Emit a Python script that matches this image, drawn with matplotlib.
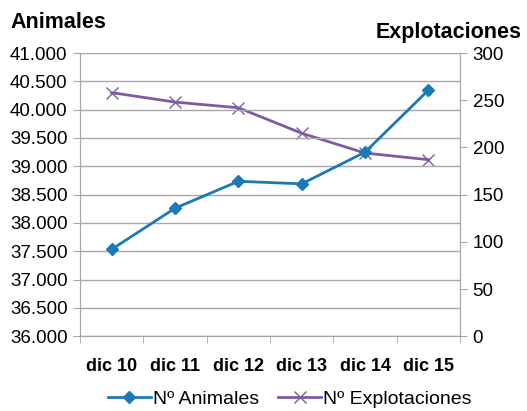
import matplotlib
matplotlib.use("Agg")
import matplotlib.pyplot as plt
from matplotlib.ticker import FuncFormatter

plt.rcParams["font.family"] = ["Liberation Sans", "DejaVu Sans"]

periodos = ["dic 10", "dic 11", "dic 12", "dic 13", "dic 14", "dic 15"]
animales = [37535, 38260, 38735, 38690, 39250, 40345]
explotaciones = [258, 248, 242, 215, 194, 187]

BLUE = "#1a7ab5"
PURPLE = "#7f5aa5"
GRID = "#a6a6a6"

fig = plt.figure(figsize=(5.27, 4.11), dpi=100)
ax = fig.add_axes([0.152, 0.182, 0.721, 0.689])
ax2 = ax.twinx()

x = range(len(periodos))
l1, = ax.plot(x, animales, color=BLUE, lw=2, marker="D", ms=6, label="Nº Animales")
l2, = ax2.plot(x, explotaciones, color=PURPLE, lw=2, marker="x", ms=8, mew=1, label="Nº Explotaciones")
ax.set_zorder(ax2.get_zorder() + 1)
ax.patch.set_visible(False)

ax.set_xlim(-0.5, len(periodos) - 0.5)
ax.set_ylim(36000, 41000)
ax.set_yticks(range(36000, 41001, 500))
ax.yaxis.set_major_formatter(FuncFormatter(lambda v, p: f"{int(v):,}".replace(",", ".")))
ax2.set_ylim(0, 300)
ax2.set_yticks(range(0, 301, 50))

ax.grid(axis="y", color=GRID, lw=1)
ax.set_xticks(x)
ax.set_xticklabels(periodos, fontweight="bold", fontsize=13)
ax.set_xticks([i + 0.5 for i in range(-1, len(periodos))], minor=True)
ax.tick_params(axis="x", which="major", length=0, pad=16)
ax.tick_params(axis="x", which="minor", length=5, color=GRID)
ax.tick_params(axis="y", length=5, color=GRID, labelsize=13.5, pad=4)
ax2.tick_params(axis="y", length=5, color=GRID, labelsize=13.5, pad=4)

for a in (ax, ax2):
    a.spines["top"].set_visible(False)
    for s in ("left", "right", "bottom"):
        a.spines[s].set_color(GRID)

fig.text(0.02, 0.945, "Animales", fontsize=15.5, fontweight="bold", ha="left", va="center")
fig.text(0.99, 0.92, "Explotaciones", fontsize=15.5, fontweight="bold", ha="right", va="center")

fig.legend(handles=[l1, l2], loc="center", bbox_to_anchor=(0.55, 0.028), ncol=2,
           frameon=False, fontsize=14, handlelength=2.2, handletextpad=0.1, columnspacing=1.0)

fig.savefig("out.png", dpi=100)
